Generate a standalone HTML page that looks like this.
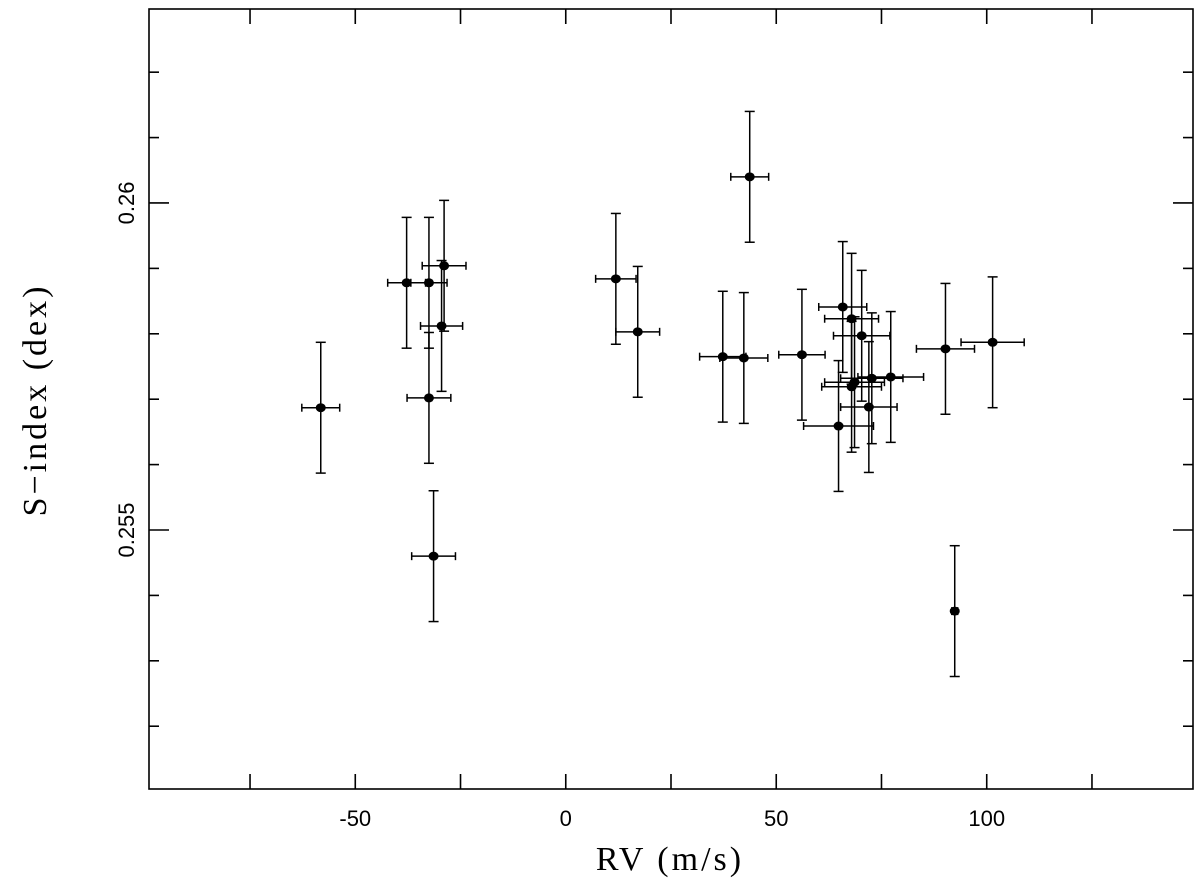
<!DOCTYPE html>
<html><head><meta charset="utf-8"><style>
html,body{margin:0;padding:0;background:#fff;}
svg{display:block;}
text{font-family:"Liberation Sans",sans-serif;fill:#000;}
</style></head><body>
<svg id="chart" width="1200" height="881" xmlns="http://www.w3.org/2000/svg">
<rect x="149" y="9" width="1044" height="780" fill="none" stroke="#000" stroke-width="1.6"/>
<g id="ticks"></g>
<g id="marks"></g>
<text x="670" y="870" text-anchor="middle" style="font-family:'Liberation Serif',serif;font-size:34px;letter-spacing:3px">RV (m/s)</text>
<text transform="translate(46,400) rotate(-90)" text-anchor="middle" style="font-family:'Liberation Serif',serif;font-size:34px;letter-spacing:3px">S−index (dex)</text>
</svg>
<script>
const rvValues=[-58.2,-37.8,-32.5,-28.9,-29.5,-32.5,-31.4,11.9,17.1,43.7,37.3,42.3,56.1,65.8,67.9,70.3,64.8,67.9,68.6,72.7,72.0,77.2,90.2,101.4,92.4];
const sValues=[0.25687,0.25878,0.25878,0.25904,0.25812,0.25702,0.25460,0.25884,0.25803,0.26040,0.25765,0.25763,0.25768,0.25841,0.25823,0.25797,0.25659,0.25719,0.25726,0.25732,0.25688,0.25734,0.25777,0.25787,0.25376];
const rvErr=[4.5,4.5,4.3,5.2,5,5.2,5.2,4.8,5.2,4.5,5.5,5.7,5.5,5.7,6.4,6.7,8.3,7.1,7.1,7.4,6.7,7.8,6.9,7.5,0.7];
const sErr=[0.001,0.001,0.001,0.001,0.001,0.001,0.001,0.001,0.001,0.001,0.001,0.001,0.001,0.001,0.001,0.001,0.001,0.001,0.001,0.001,0.001,0.001,0.001,0.001,0.001];
const xTickValues=[-75,-50,-25,0,25,50,75,100,125];
const xTickLabels=["","-50","","0","","50","","100",""];
const yTickValues=[0.252,0.253,0.254,0.255,0.256,0.257,0.258,0.259,0.260,0.261,0.262];
const yTickLabels=["","","","0.255","","","","","0.26","",""];

const X0=149,X1=1193,Y0=9,Y1=789,XMIN=-99,XMAX=149,YMIN=0.25104,YMAX=0.262966;
const sx=v=>X0+(v-XMIN)/(XMAX-XMIN)*(X1-X0);
const sy=v=>Y1-(v-YMIN)/(YMAX-YMIN)*(Y1-Y0);
const NS='http://www.w3.org/2000/svg';
function mk(tag,attrs,parent){const e=document.createElementNS(NS,tag);for(const k in attrs)e.setAttribute(k,attrs[k]);parent.appendChild(e);return e;}
const tk=document.getElementById('ticks'),mg=document.getElementById('marks');
xTickValues.forEach((v,i)=>{
  const x=sx(v);
  let l=mk('line',{x1:x,x2:x,y1:Y1,y2:Y1-15,stroke:'#000','stroke-width':1.6},tk);
  
  
  l=mk('line',{x1:x,x2:x,y1:Y0,y2:Y0+15,stroke:'#000','stroke-width':1.6},tk);
  
  
  if(xTickLabels[i]){const t=mk('text',{x:x,y:826,'text-anchor':'middle','font-size':'22'},tk);t.textContent=xTickLabels[i];
  
  }
});
yTickValues.forEach((v,i)=>{
  const y=sy(v);const len=yTickLabels[i]?20:10;
  let l=mk('line',{x1:X0,x2:X0+len,y1:y,y2:y,stroke:'#000','stroke-width':1.6},tk);
  
  
  l=mk('line',{x1:X1,x2:X1-len,y1:y,y2:y,stroke:'#000','stroke-width':1.6},tk);
  
  
  if(yTickLabels[i]){const t=mk('text',{transform:`translate(134,${y}) rotate(-90)`,'text-anchor':'middle','font-size':'22'},tk);t.textContent=yTickLabels[i];
  
  }
});
rvValues.forEach((v,i)=>{
  const g=mk('g',{stroke:'#000','stroke-width':1.5},mg);
  
  
  const x=sx(v),y=sy(sValues[i]);
  const xa=sx(v-rvErr[i]),xb=sx(v+rvErr[i]),ya=sy(sValues[i]+sErr[i]),yb=sy(sValues[i]-sErr[i]);
  mk('line',{x1:x,x2:x,y1:ya,y2:yb},g);
  mk('line',{x1:x-5,x2:x+5,y1:ya,y2:ya},g);
  mk('line',{x1:x-5,x2:x+5,y1:yb,y2:yb},g);
  mk('line',{x1:xa,x2:xb,y1:y,y2:y},g);
  mk('line',{x1:xa,x2:xa,y1:y-4,y2:y+4},g);
  mk('line',{x1:xb,x2:xb,y1:y-4,y2:y+4},g);
  mk('ellipse',{cx:x,cy:y,rx:5,ry:4.5,fill:'#000',stroke:'none'},g);
});
</script>
</body></html>
